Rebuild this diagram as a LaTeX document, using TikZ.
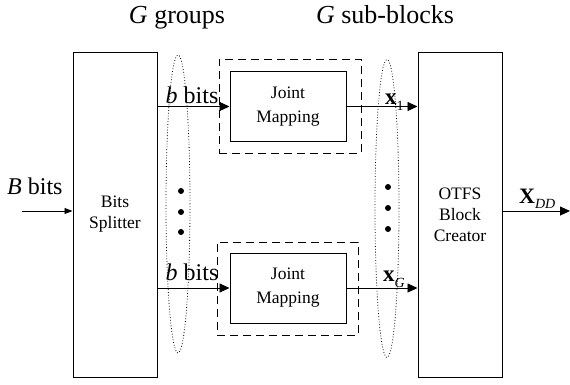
\documentclass[tikz,border=0pt]{standalone}
\usepackage{fontspec}
\setmainfont{Liberation Serif}
\usetikzlibrary{arrows.meta,shapes.geometric}
\begin{document}
\begin{tikzpicture}[x=1pt,y=-1pt,
  blockbox/.style={draw,line width=1pt,inner sep=0pt,align=center},
  dashbox/.style={draw,line width=1pt,dash pattern=on 8pt off 5pt,inner sep=0pt},
  arr/.style={line width=0.9pt,-{Triangle[length=10pt,width=9pt]}},
  arrsm/.style={line width=0.9pt,-{Triangle[length=8pt,width=6pt]}},
  groupell/.style={line width=0.8pt,dash pattern=on 0.8pt off 2pt},
  lbl/.style={inner sep=0pt,font=\fontsize{24}{24}\selectfont},
  ttl/.style={inner sep=0pt,anchor=base,font=\fontsize{26}{26}\selectfont},
  dotmark/.style={fill=black}]
\useasboundingbox (0,0) rectangle (570,384);

% titles
\node[ttl] (t1) at (177,23) {\textit{G} groups};
\node[ttl] (t2) at (385,23) {\textit{G} sub-blocks};

% main blocks
\node[blockbox,minimum width=84pt,minimum height=325pt,
      font=\fontsize{17.5}{21}\selectfont] (split) at (115,214.5) {Bits\\Splitter};
\node[blockbox,minimum width=84pt,minimum height=325pt,
      font=\fontsize{17.5}{21}\selectfont] (otfs) at (460,214.5) {OTFS\\Block\\Creator};

% dashed sub-block frames
\node[dashbox,minimum width=142pt,minimum height=94pt] (d1) at (290,106) {};
\node[dashbox,minimum width=141pt,minimum height=93pt] (d2) at (287.5,288.5) {};

% joint mapping blocks
\node[blockbox,minimum width=116pt,minimum height=70pt,
      font=\fontsize{17.5}{24}\selectfont] (jm1) at (288,106.5) {Joint\\Mapping};
\node[blockbox,minimum width=116pt,minimum height=70pt,
      font=\fontsize{17.5}{24}\selectfont] (jm2) at (288,288) {Joint\\Mapping};

% dotted group ellipses
\node[draw,groupell,ellipse,minimum width=24pt,minimum height=298pt,inner sep=0pt] (e1) at (178,204) {};
\node[draw,groupell,ellipse,minimum width=24pt,minimum height=298pt,inner sep=0pt] (e2) at (387,208.5) {};

% vertical dots
\fill[dotmark] (181,191) circle[radius=3];
\fill[dotmark] (181,212) circle[radius=3];
\fill[dotmark] (181,232) circle[radius=3];
\fill[dotmark] (388,187) circle[radius=3];
\fill[dotmark] (388,208) circle[radius=3];
\fill[dotmark] (388,229) circle[radius=3];

% free ends
\coordinate (in) at (22,211);
\coordinate (out) at (570,211);

% connectors
\draw[arrsm] (in) -- (in -| split.west);
\draw[arr] (split.east |- jm1) -- (jm1.west);
\draw[arr] (split.east |- jm2) -- (jm2.west);
\draw[arr] (jm1.east) -- (jm1.east -| otfs.west);
\draw[arr] (jm2.east) -- (jm2.east -| otfs.west);
\draw[arr] (otfs.east |- out) -- (out);

% labels
\node[lbl,anchor=base west] (lB) at (7,194) {\textit{B} bits};
\node[lbl,anchor=base] (lb1) at (192,103) {\textit{b} bits};
\node[lbl,anchor=base] (lb2) at (192,280) {\textit{b} bits};
\node[inner sep=0pt,anchor=base west,font=\fontsize{23}{23}\selectfont] (lx1) at (385,104)
  {\textbf{x}\raisebox{-6pt}{\fontsize{14}{14}\selectfont 1}};
\node[inner sep=0pt,anchor=base west,font=\fontsize{23}{23}\selectfont] (lxG) at (383,281)
  {\textbf{x}\raisebox{-6pt}{\fontsize{14}{14}\selectfont\textit{G}}};
\node[inner sep=0pt,anchor=base west,font=\fontsize{22}{22}\selectfont] (lxdd) at (519,203)
  {\textbf{X}\raisebox{-5pt}{\fontsize{14}{14}\selectfont\textit{DD}}};
\end{tikzpicture}
\end{document}
